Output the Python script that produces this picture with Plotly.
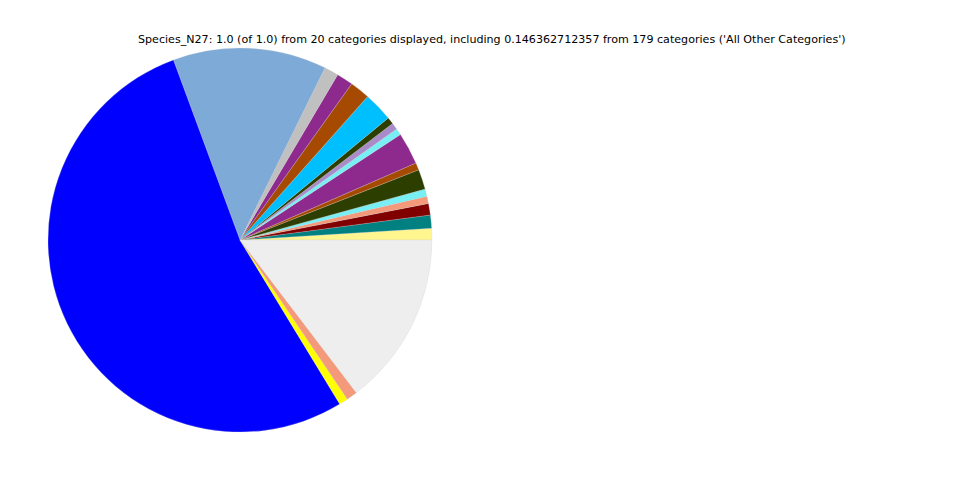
import plotly.graph_objects as go

categories = [f"Cat_{i+1}" for i in range(19)] + ["All Other Categories"]
values = [0.0097, 0.0111, 0.0097, 0.0061, 0.0061, 0.0169, 0.0061, 0.0269,
          0.0056, 0.0056, 0.0058, 0.0247, 0.0169, 0.0139, 0.0119, 0.1294,
          0.5306, 0.0075, 0.0092, 0.146362712357]
colors = ["#FFF68F", "#008080", "#800000", "#F49A7B", "#78EEF5", "#2C3F00",
          "#A54A00", "#8E2A8E", "#78EEF5", "#A88BC8", "#2C3F00", "#00BFFF",
          "#A54A00", "#8E2A8E", "#C0C0C0", "#7EAAD8", "#0000FF", "#FFFF00",
          "#F49A7B", "#EEEEEE"]
title_text = ("Species_N27: 1.0 (of 1.0) from 20 categories displayed, including "
              "0.146362712357 from 179 categories ('All Other Categories')")

# counterclockwise pies in plotly end the first slice at the rotation angle;
# shift so the first slice starts at 3 o'clock
first_angle = values[0] / sum(values) * 360
off = 8  # page body margin in pixels

cx, cy, r = 240 - off, 240 - off, 192
fig = go.Figure(go.Pie(
    labels=categories, values=values, sort=False,
    direction="counterclockwise", rotation=90 - first_angle,
    marker=dict(colors=colors, line=dict(color="#d0d0d0", width=0.25)),
    textinfo="none", showlegend=False,
    domain=dict(x=[(cx - r) / 960, (cx + r) / 960],
                y=[1 - (cy + r) / 480, 1 - (cy - r) / 480]),
))
fig.update_layout(
    width=960, height=480,
    margin=dict(l=0, r=0, t=0, b=0),
    paper_bgcolor="white", plot_bgcolor="white",
    annotations=[dict(text=title_text, x=(492 - off) / 960, y=1 - (39.5 - off) / 480,
                      xref="paper", yref="paper",
                      xanchor="center", yanchor="middle", showarrow=False,
                      font=dict(family="DejaVu Sans", size=11.1, color="black"))],
)
fig.write_html("out.html")
